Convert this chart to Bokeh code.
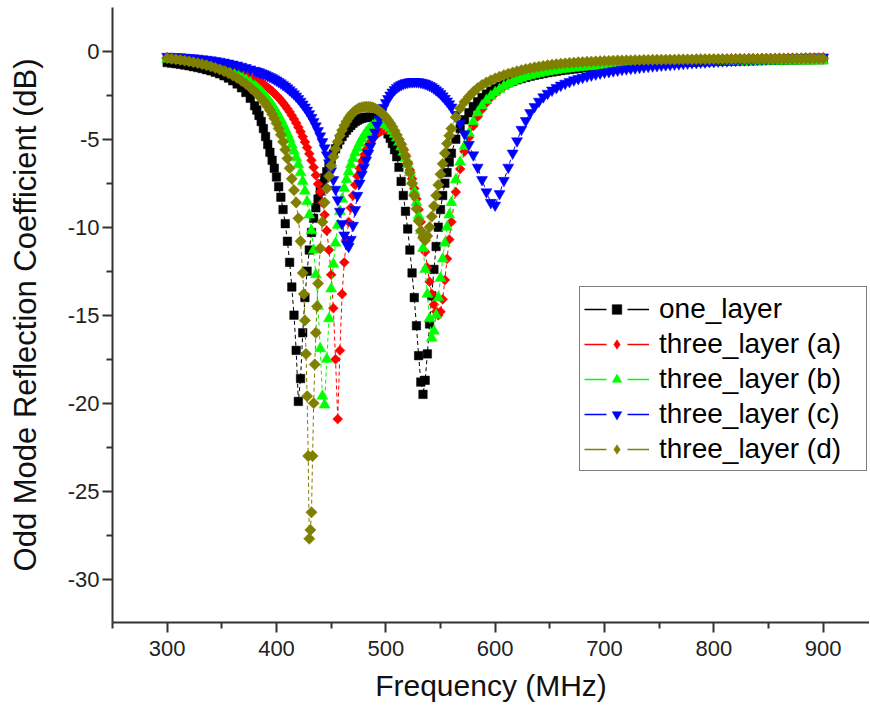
import math
from bokeh.plotting import figure
from bokeh.models import FixedTicker, Legend, LegendItem, Range1d
from bokeh.embed import file_html
from bokeh.resources import INLINE

# ---------------- data ----------------
# sampling frequencies (MHz): coarse on the shoulders, fine around the dips
freq = list(range(300, 380, 4)) + list(range(380, 562, 2)) + list(range(564, 901, 4))

one_layer_lo = [-0.65, -0.68, -0.71, -0.75, -0.79, -0.83, -0.88, -0.93, -0.99, -1.05,
                -1.12, -1.2, -1.29, -1.4, -1.53, -1.68, -1.86, -2.08, -2.35, -2.68]
one_layer_mid = [-3.10, -3.35, -3.65, -4.00, -4.40, -4.85, -5.30, -5.75, -6.20, -6.65,
                 -7.15, -7.7, -8.3, -9.0, -9.8, -10.8, -12.0, -13.4, -15.0, -17.0,
                 -19.9, -18.6, -16.0, -14.0, -12.5, -11.3, -10.3, -9.5, -8.9, -8.4,
                 -7.95, -7.55, -7.2, -6.85, -6.5, -6.15, -5.85, -5.55, -5.3, -5.05,
                 -4.85, -4.65, -4.5, -4.35, -4.22, -4.1, -4.0, -3.92, -3.86, -3.81,
                 -3.78, -3.76, -3.75, -3.75, -3.77, -3.82, -3.9, -4.0, -4.12, -4.28,
                 -4.47, -4.7, -4.95, -5.25, -5.6, -6.0, -6.6, -7.4, -8.2, -9.1,
                 -10.1, -11.3, -12.6, -14.0, -15.6, -17.3, -18.8, -19.5, -18.7, -17.2,
                 -15.5, -13.9, -12.4, -11.1, -10.0, -9.0, -8.2, -7.5, -6.9, -6.3,
                 -5.8]
one_layer_hi = [-5.0, -4.4, -3.9, -3.5, -3.15, -2.88, -2.64, -2.44, -2.27, -2.12,
                -2.0, -1.89, -1.8, -1.71, -1.63, -1.56, -1.49, -1.43, -1.37, -1.32,
                -1.27, -1.22, -1.18, -1.14, -1.1, -1.07, -1.04, -1.01, -0.98, -0.95,
                -0.93, -0.91, -0.89, -0.87, -0.85, -0.83, -0.81, -0.8, -0.78, -0.77,
                -0.76, -0.74, -0.73, -0.72, -0.71, -0.7, -0.69, -0.68, -0.67, -0.66,
                -0.65, -0.64, -0.63, -0.63, -0.62, -0.61, -0.6, -0.6, -0.59, -0.58,
                -0.58, -0.57, -0.57, -0.56, -0.56, -0.55, -0.55, -0.54, -0.54, -0.53,
                -0.53, -0.52, -0.52, -0.52, -0.51, -0.51, -0.5, -0.5, -0.5, -0.49,
                -0.49, -0.49, -0.48, -0.48, -0.48]

layer_a_lo = [-0.35, -0.37, -0.39, -0.41, -0.44, -0.47, -0.5, -0.54, -0.58, -0.63,
              -0.68, -0.74, -0.8, -0.87, -0.95, -1.03, -1.12, -1.22, -1.33, -1.45]
layer_a_mid = [-1.58, -1.65, -1.72, -1.8, -1.88, -1.97, -2.07, -2.17, -2.28, -2.4,
               -2.52, -2.65, -2.79, -2.94, -3.1, -3.27, -3.45, -3.65, -3.86, -4.08,
               -4.32, -4.58, -4.86, -5.16, -5.48, -5.83, -6.2, -6.6, -7.05, -7.55,
               -8.0, -8.6, -9.3, -10.2, -11.3, -12.7, -14.6, -17.5, -20.9, -17.0,
               -13.8, -12.0, -10.7, -9.7, -8.9, -8.2, -7.6, -7.1, -6.65, -6.25,
               -5.9, -5.6, -5.35, -5.15, -4.97, -4.82, -4.7, -4.6, -4.53, -4.48,
               -4.45, -4.45, -4.48, -4.55, -4.65, -4.8, -5.0, -5.25, -5.55, -5.9,
               -6.3, -6.75, -7.25, -7.8, -8.4, -9.0, -9.7, -10.5, -11.4, -12.3,
               -13.1, -13.8, -14.4, -14.8, -15.0, -14.8, -14.1, -13.0, -11.8, -10.7,
               -9.7]
layer_a_hi = [-8.0, -6.7, -5.7, -4.9, -4.25, -3.72, -3.3, -2.94, -2.64, -2.4,
              -2.19, -2.01, -1.86, -1.73, -1.61, -1.51, -1.42, -1.34, -1.27, -1.2,
              -1.14, -1.09, -1.04, -1.0, -0.96, -0.92, -0.89, -0.86, -0.83, -0.8,
              -0.78, -0.76, -0.74, -0.72, -0.7, -0.68, -0.66, -0.65, -0.63, -0.62,
              -0.61, -0.6, -0.58, -0.57, -0.56, -0.55, -0.54, -0.53, -0.52, -0.51,
              -0.5, -0.5, -0.49, -0.48, -0.47, -0.47, -0.46, -0.45, -0.45, -0.44,
              -0.44, -0.43, -0.43, -0.42, -0.42, -0.41, -0.41, -0.4, -0.4, -0.4,
              -0.39, -0.39, -0.39, -0.38, -0.38, -0.38, -0.37, -0.37, -0.37, -0.37,
              -0.36, -0.36, -0.36, -0.36, -0.35]

layer_b_lo = [-0.45, -0.47, -0.49, -0.52, -0.55, -0.58, -0.62, -0.66, -0.71, -0.76,
              -0.82, -0.88, -0.95, -1.03, -1.12, -1.22, -1.34, -1.47, -1.62, -1.79]
layer_b_mid = [-1.98, -2.08, -2.19, -2.31, -2.44, -2.58, -2.73, -2.89, -3.06, -3.25,
               -3.45, -3.67, -3.9, -4.15, -4.42, -4.7, -5.0, -5.32, -5.67, -6.05,
               -6.45, -6.9, -7.4, -7.95, -8.55, -9.3, -10.2, -11.3, -12.7, -14.5,
               -16.9, -19.6, -20.1, -17.5, -15.2, -13.5, -12.1, -10.9, -9.9, -9.1,
               -8.4, -7.8, -7.3, -6.85, -6.45, -6.1, -5.78, -5.5, -5.24, -5.0,
               -4.8, -4.62, -4.47, -4.35, -4.25, -4.17, -4.12, -4.09, -4.09, -4.12,
               -4.18, -4.27, -4.39, -4.54, -4.72, -4.93, -5.17, -5.44, -5.74, -6.08,
               -6.46, -6.9, -7.4, -7.95, -8.6, -9.35, -10.2, -11.2, -12.4, -13.8,
               -15.2, -16.3, -15.9, -15.0, -14.0, -12.9, -11.8, -10.9, -10.0, -9.3,
               -8.6]
layer_b_hi = [-7.3, -6.3, -5.4, -4.65, -4.0, -3.5, -3.1, -2.8, -2.55, -2.35,
              -2.17, -2.0, -1.86, -1.74, -1.63, -1.54, -1.46, -1.39, -1.33, -1.27,
              -1.22, -1.17, -1.13, -1.09, -1.05, -1.02, -0.99, -0.96, -0.93, -0.91,
              -0.89, -0.87, -0.85, -0.83, -0.81, -0.8, -0.78, -0.77, -0.75, -0.74,
              -0.73, -0.72, -0.71, -0.7, -0.69, -0.68, -0.67, -0.67, -0.66, -0.65,
              -0.65, -0.64, -0.64, -0.63, -0.63, -0.62, -0.62, -0.61, -0.61, -0.61,
              -0.6, -0.6, -0.6, -0.59, -0.59, -0.59, -0.58, -0.58, -0.58, -0.58,
              -0.57, -0.57, -0.57, -0.57, -0.56, -0.56, -0.56, -0.56, -0.56, -0.55,
              -0.55, -0.55, -0.55, -0.55, -0.55]

layer_c_lo = [-0.3, -0.31, -0.32, -0.33, -0.35, -0.37, -0.39, -0.41, -0.44, -0.47,
              -0.5, -0.54, -0.58, -0.63, -0.68, -0.74, -0.8, -0.87, -0.94, -1.02]
layer_c_mid = [-1.1, -1.14, -1.18, -1.23, -1.28, -1.33, -1.39, -1.45, -1.51, -1.58,
               -1.65, -1.73, -1.81, -1.9, -1.99, -2.09, -2.2, -2.31, -2.43, -2.56,
               -2.7, -2.85, -3.01, -3.18, -3.36, -3.56, -3.77, -4.0, -4.25, -4.52,
               -4.82, -5.15, -5.5, -5.9, -6.35, -6.8, -7.3, -7.85, -8.45, -9.1,
               -9.8, -10.45, -10.95, -11.1, -10.7, -9.9, -9.0, -8.2, -7.5, -7.0,
               -6.6, -6.2, -5.8, -5.4, -5.0, -4.6, -4.2, -3.85, -3.5, -3.2,
               -2.93, -2.7, -2.5, -2.33, -2.19, -2.07, -1.98, -1.91, -1.85, -1.8,
               -1.77, -1.75, -1.74, -1.74, -1.74, -1.75, -1.77, -1.8, -1.84, -1.89,
               -1.95, -2.02, -2.1, -2.2, -2.3, -2.42, -2.55, -2.69, -2.84, -3.0,
               -3.18]
layer_c_hi = [-3.6, -4.1, -4.7, -5.3, -5.9, -6.6, -7.3, -8.0, -8.6, -8.75,
              -8.1, -7.35, -6.6, -5.8, -5.1, -4.45, -3.95, -3.5, -3.15, -2.85,
              -2.6, -2.4, -2.22, -2.07, -1.94, -1.83, -1.73, -1.64, -1.56, -1.49,
              -1.42, -1.36, -1.3, -1.25, -1.2, -1.16, -1.12, -1.08, -1.04, -1.01,
              -0.98, -0.95, -0.92, -0.89, -0.87, -0.84, -0.82, -0.8, -0.78, -0.76,
              -0.74, -0.72, -0.7, -0.68, -0.66, -0.65, -0.63, -0.62, -0.6, -0.59,
              -0.57, -0.56, -0.55, -0.53, -0.52, -0.51, -0.5, -0.49, -0.48, -0.47,
              -0.46, -0.45, -0.44, -0.43, -0.42, -0.41, -0.4, -0.39, -0.38, -0.37,
              -0.36, -0.36, -0.35, -0.34, -0.34]

layer_d_lo = [-0.4, -0.43, -0.46, -0.5, -0.54, -0.58, -0.63, -0.68, -0.74, -0.8,
              -0.87, -0.95, -1.04, -1.14, -1.25, -1.38, -1.52, -1.68, -1.86, -2.06]
layer_d_mid = [-2.28, -2.4, -2.53, -2.67, -2.82, -2.98, -3.16, -3.36, -3.58, -3.82,
               -4.1, -4.4, -4.75, -5.15, -5.6, -6.1, -6.65, -7.25, -7.9, -8.6,
               -9.5, -10.8, -12.6, -15.3, -19.6, -27.7, -26.2, -20.0, -16.0, -13.2,
               -11.2, -9.7, -8.6, -7.8, -7.1, -6.5, -6.0, -5.55, -5.15, -4.8,
               -4.5, -4.23, -4.0, -3.8, -3.63, -3.49, -3.38, -3.29, -3.23, -3.19,
               -3.17, -3.16, -3.16, -3.17, -3.2, -3.25, -3.32, -3.4, -3.5, -3.62,
               -3.76, -3.92, -4.1, -4.3, -4.52, -4.76, -5.02, -5.3, -5.62, -5.98,
               -6.4, -6.9, -7.5, -8.2, -8.95, -9.65, -10.2, -10.6, -10.75, -10.5,
               -10.0, -9.4, -8.8, -8.2, -7.6, -7.0, -6.4, -5.8, -5.25, -4.8,
               -4.4]
layer_d_hi = [-3.75, -3.25, -2.88, -2.58, -2.32, -2.1, -1.92, -1.78, -1.66, -1.55,
              -1.45, -1.36, -1.28, -1.21, -1.14, -1.08, -1.02, -0.97, -0.92, -0.88,
              -0.84, -0.8, -0.77, -0.74, -0.71, -0.69, -0.67, -0.65, -0.63, -0.62,
              -0.6, -0.59, -0.58, -0.57, -0.56, -0.55, -0.54, -0.53, -0.53, -0.52,
              -0.52, -0.51, -0.51, -0.5, -0.5, -0.49, -0.49, -0.49, -0.48, -0.48,
              -0.48, -0.47, -0.47, -0.47, -0.47, -0.46, -0.46, -0.46, -0.46, -0.45,
              -0.45, -0.45, -0.45, -0.45, -0.44, -0.44, -0.44, -0.44, -0.44, -0.44,
              -0.43, -0.43, -0.43, -0.43, -0.43, -0.43, -0.43, -0.42, -0.42, -0.42,
              -0.42, -0.42, -0.42, -0.42, -0.42]
# extra, finer samples of (d) around its deep first dip
layer_d_extra_f = [425, 427, 429, 431, 433, 435, 437]
layer_d_extra_v = [-13.8, -17.2, -23.0, -27.2, -23.0, -17.8, -14.5]

one_layer = one_layer_lo + one_layer_mid + one_layer_hi
three_layer_a = layer_a_lo + layer_a_mid + layer_a_hi
three_layer_b = layer_b_lo + layer_b_mid + layer_b_hi
three_layer_c = layer_c_lo + layer_c_mid + layer_c_hi
three_layer_d = layer_d_lo + layer_d_mid + layer_d_hi

labels = ["one_layer", "three_layer (a)", "three_layer (b)", "three_layer (c)", "three_layer (d)"]
x_ticks = [300, 400, 500, 600, 700, 800, 900]
x_minor = [250, 350, 450, 550, 650, 750, 850, 950]
y_ticks = [-30, -25, -20, -15, -10, -5, 0]
y_minor = [-32.5, -27.5, -22.5, -17.5, -12.5, -7.5, -2.5, 2.5]

for name, arr in zip(labels, [one_layer, three_layer_a, three_layer_b, three_layer_c, three_layer_d]):
    if len(arr) != len(freq):
        raise SystemExit(f"{name}: {len(arr)} values vs {len(freq)} frequencies")

# merge the extra samples of (d) into its own sorted series
pairs_d = sorted(list(zip(freq, three_layer_d)) + list(zip(layer_d_extra_f, layer_d_extra_v)))
freq_d = [f for f, _ in pairs_d]
vals_d = [v for _, v in pairs_d]

# ---------------- figure ----------------
FONT = "Liberation Sans"
p = figure(width=869, height=716, output_backend="svg", toolbar_location=None,
           x_range=Range1d(250, 942.4), y_range=Range1d(-32.46, 2.48),
           min_border_left=112, min_border_right=0, min_border_top=7, min_border_bottom=94)
p.outline_line_color = None
p.xgrid.visible = False
p.ygrid.visible = False
p.background_fill_color = "white"
p.border_fill_color = "white"
# off-screen range used only to carry the legend keys
p.extra_y_ranges = {"key": Range1d(1000, 1001)}

for ax in (p.xaxis[0], p.yaxis[0]):
    ax.axis_line_color = "#333333"
    ax.axis_line_width = 2
    ax.major_tick_line_color = "#333333"
    ax.major_tick_line_width = 2
    ax.minor_tick_line_color = "#333333"
    ax.minor_tick_line_width = 2
    ax.major_tick_in = 0
    ax.major_tick_out = 10
    ax.minor_tick_in = 0
    ax.minor_tick_out = 6
    ax.major_label_text_font = FONT
    ax.major_label_text_font_size = "22px"
    ax.major_label_text_color = "#222222"
    ax.axis_label_text_font = FONT
    ax.axis_label_text_font_style = "normal"
    ax.axis_label_text_color = "#111111"

p.xaxis.ticker = FixedTicker(ticks=x_ticks, minor_ticks=x_minor)
p.yaxis.ticker = FixedTicker(ticks=y_ticks, minor_ticks=y_minor)
p.yaxis.major_label_overrides = {t: str(t) for t in y_ticks}
p.xaxis.major_label_overrides = {t: str(t) for t in x_ticks}
p.xaxis.major_label_standoff = 8
p.yaxis.major_label_standoff = 3
p.xaxis.axis_label = "Frequency (MHz)"
p.yaxis.axis_label = "Odd Mode Reflection Coefficient (dB)"
p.xaxis.axis_label_text_font_size = "30px"
p.yaxis.axis_label_text_font_size = "31px"
p.xaxis.axis_label_standoff = 10
p.yaxis.axis_label_standoff = 22

series = [
    (labels[0], freq, one_layer, "#000000", "square", 8.5, 0.0, "square"),
    (labels[1], freq, three_layer_a, "#FF0000", "square", 7, math.pi / 4, "diamond"),
    (labels[2], freq, three_layer_b, "#00FF00", "triangle", 11, 0.0, "triangle"),
    (labels[3], freq, three_layer_c, "#0000FF", "inverted_triangle", 11, 0.0, "inverted_triangle"),
    (labels[4], freq_d, vals_d, "#808000", "square", 8, math.pi / 4, "diamond"),
]

items = []
for label, xs, vals, color, marker, size, ang, key_marker in series:
    p.line(xs, vals, line_color=color, line_width=1, line_dash="4 3")
    p.scatter(xs, vals, marker=marker, size=size, angle=ang,
              fill_color=color, line_color=color, line_width=0.5)
    key_line = p.line(xs, vals, y_range_name="key", line_color=color, line_width=1.3,
                      line_dash="22 21")
    key_mark = p.scatter(xs, vals, y_range_name="key", marker=key_marker, size=size,
                         fill_color=color, line_color=color, line_width=0.5)
    items.append(LegendItem(label=label, renderers=[key_line, key_mark]))

legend = Legend(items=items, location=(467, 151), margin=0,
                glyph_width=65, glyph_height=24, label_height=35, label_width=203,
                label_standoff=10, padding=4, spacing=0,
                label_text_font=FONT, label_text_font_size="28px", label_text_color="black",
                border_line_color="black", border_line_width=1.5,
                background_fill_color="white", background_fill_alpha=1.0)
p.add_layout(legend, "center")

open("out.html", "w").write(file_html(p, INLINE))
